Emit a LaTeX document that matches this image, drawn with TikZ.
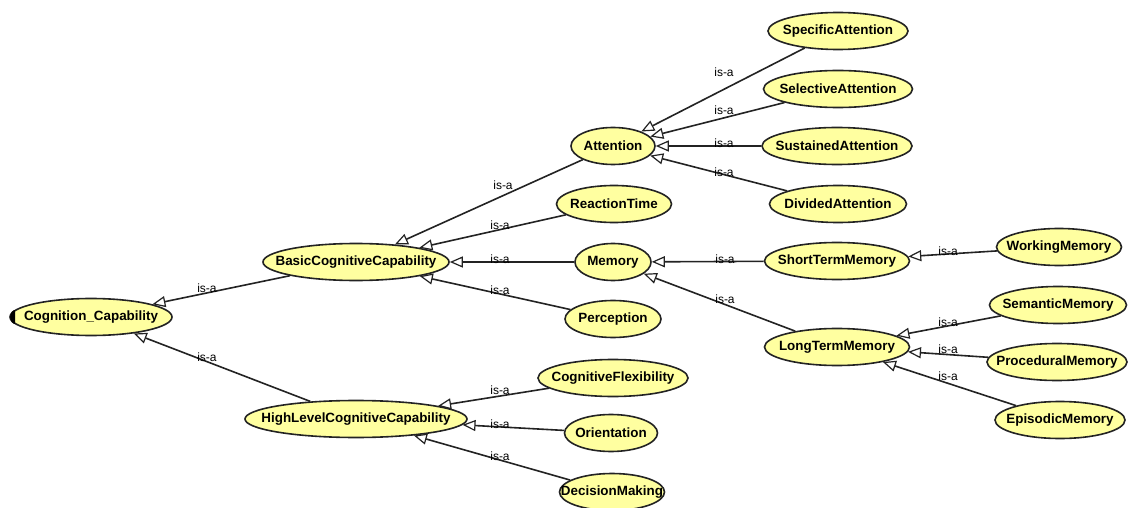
\documentclass[tikz,border=0pt]{standalone}
\usepackage{fontspec}
\setmainfont{Liberation Sans}
\usepackage{xcolor}
\usepackage{tikz}
\usetikzlibrary{arrows.meta,shapes.geometric}

\definecolor{owlfill}{RGB}{255,255,160}
\definecolor{owlline}{RGB}{35,35,35}

\begin{document}
\begin{tikzpicture}[
  x=1pt, y=-1pt,
  cls/.style={ellipse, draw=owlline, line width=1.6pt, fill=owlfill, inner xsep=-22pt, inner ysep=-10pt,
    minimum height=37pt, font=\fontsize{13.4}{16}\selectfont\bfseries},
  isaedge/.style={draw=owlline, line width=1.6pt, -{Triangle[open, length=13pt, width=11pt, line width=1.2pt]}},
  isalab/.style={font=\fontsize{12}{14}\selectfont, inner sep=0pt}
]
\useasboundingbox[fill=white] (0,0) rectangle (1128,508);

% Classes.
\foreach \n/\x/\y/\w/\t in {
  cog/91/317/162/Cognition\_Capability,
  basic/356/262/186/BasicCognitiveCapability,
  high/356/419/222/HighLevelCognitiveCapability,
  att/613/146/84/Attention,
  react/614/204/115/ReactionTime,
  mem/613/262/76/Memory,
  perc/613/319/96/Perception,
  flex/613/378/150/CognitiveFlexibility,
  orient/611/433/93/Orientation,
  dec/612/492/105/DecisionMaking,
  spec/838/31/140/SpecificAttention,
  sel/838/89/149/SelectiveAttention,
  sust/837/146/150/SustainedAttention,
  div/838/204/137/DividedAttention,
  stm/837/261/145/ShortTermMemory,
  ltm/837/347/145/LongTermMemory,
  work/1059/247/125/WorkingMemory,
  sem/1058/305/137/SemanticMemory,
  proc/1057/362/140/ProceduralMemory,
  epi/1060/420/130/EpisodicMemory} {
  \node[cls, minimum width=\w] (\n) at (\x,\y) {\t};
}

% Collapse marker on the root.
\fill[black] ([xshift=6pt, yshift=7pt]cog.west) arc[start angle=90, end angle=270, x radius=5pt, y radius=7pt] -- cycle;

% is-a edges, child -> parent.
\foreach \c/\p/\lx/\ly in {
  basic/cog/207/288, high/cog/207/357,
  att/basic/503/185, react/basic/500/225, mem/basic/500/259, perc/basic/500/290,
  flex/high/500/390, orient/high/500/424, dec/high/500/456,
  spec/att/724/72, sel/att/724/110, sust/att/724/143, div/att/724/172,
  stm/mem/725/259, ltm/mem/725/299,
  work/stm/948/251,
  sem/ltm/948/322, proc/ltm/948/349, epi/ltm/948/376} {
  \draw[isaedge] (\c) -- (\p);
  \node[isalab] (l-\c) at (\lx,\ly) {is-a};
}
\end{tikzpicture}
\end{document}
